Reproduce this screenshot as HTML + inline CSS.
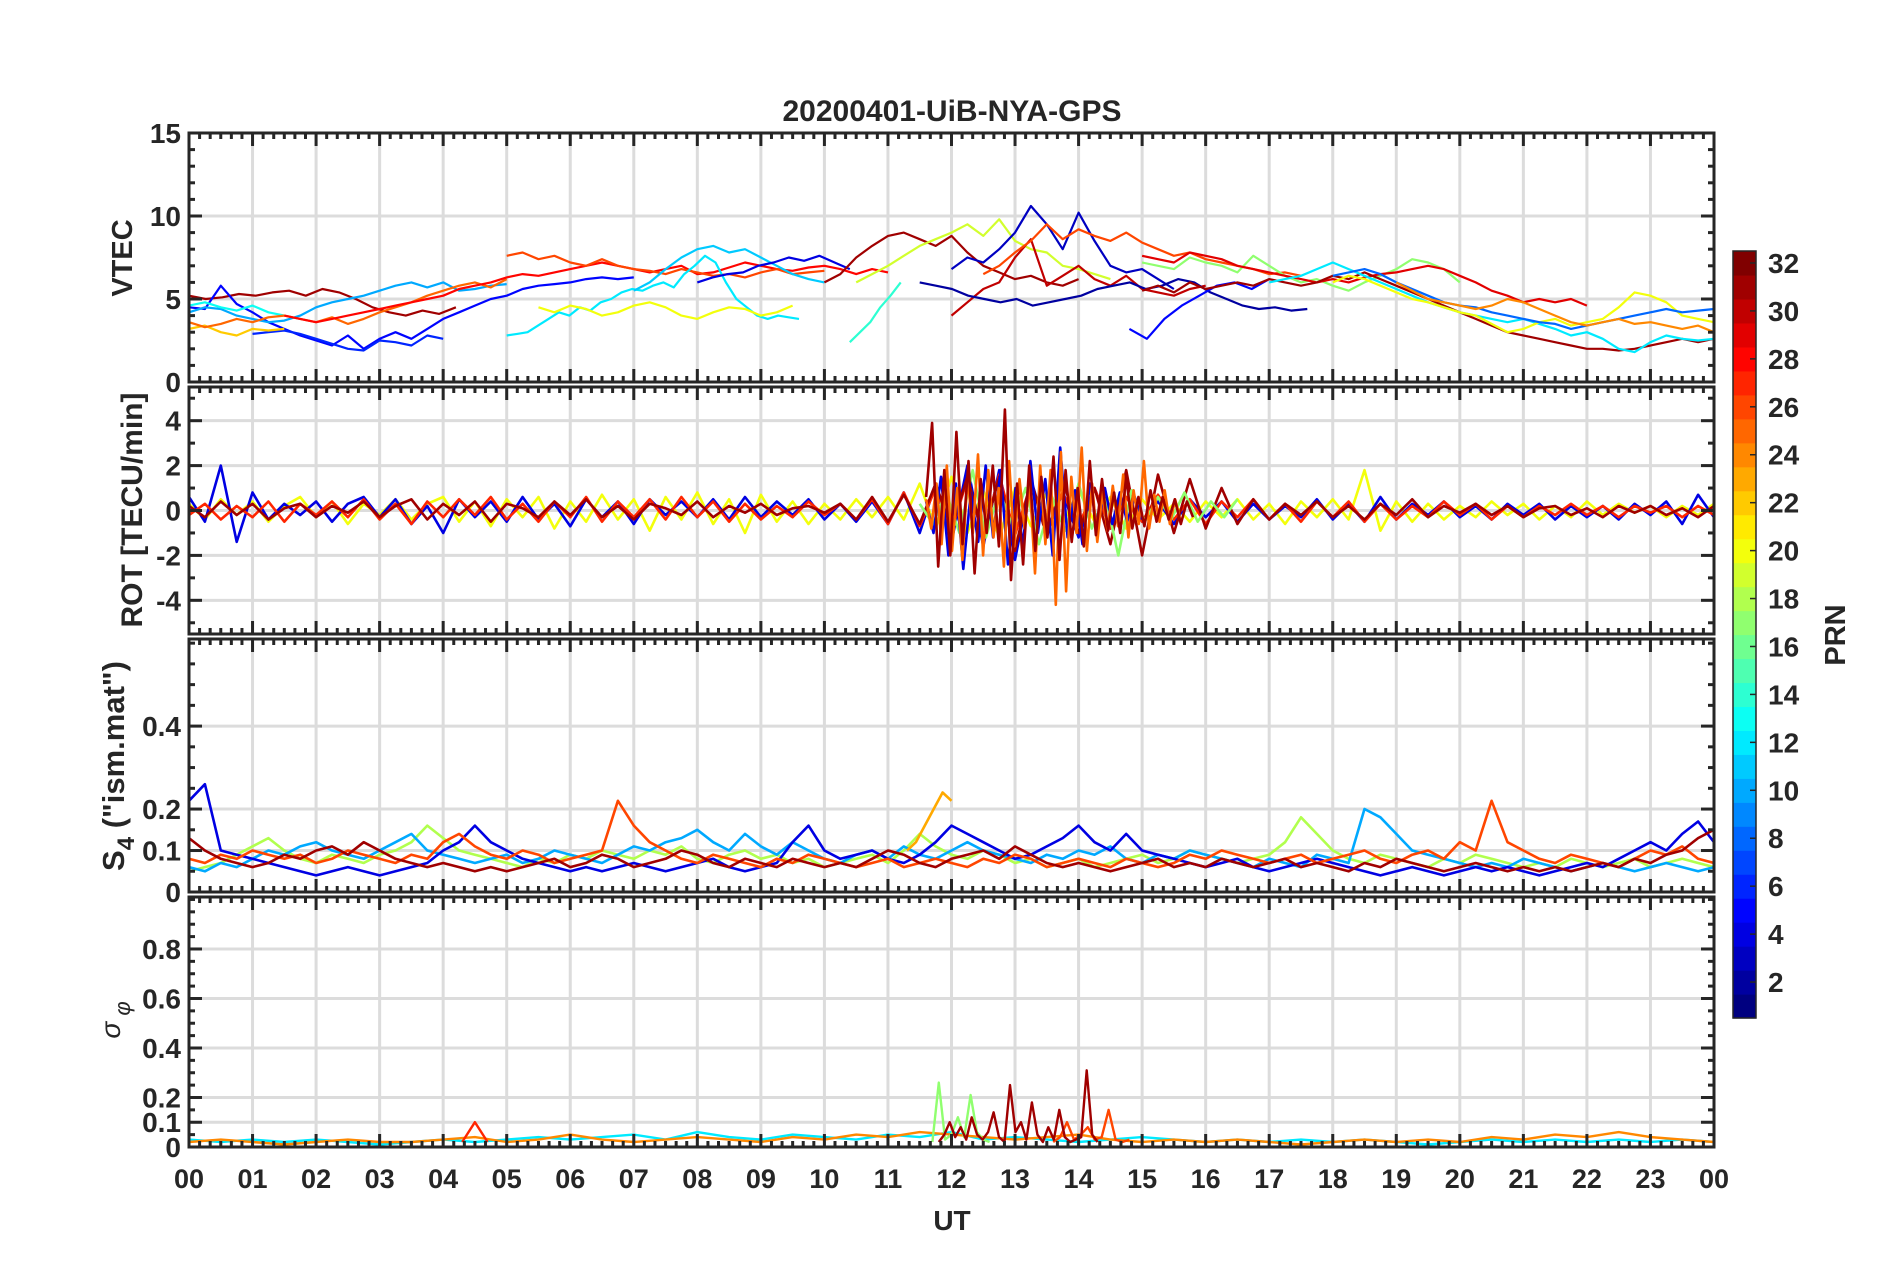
<!DOCTYPE html>
<html><head><meta charset="utf-8">
<style>
html,body{margin:0;padding:0;background:#fff;}
svg{display:block;}
text{font-family:"Liberation Sans",sans-serif;fill:#262626;}
</style></head>
<body>
<svg id="fig" width="1902" height="1272" viewBox="0 0 1902 1272" xmlns="http://www.w3.org/2000/svg">
<rect width="1902" height="1272" fill="#fff"/>
<text x="952" y="121" text-anchor="middle" font-size="30" font-weight="bold">20200401-UiB-NYA-GPS</text>
<g id="layer"></g>
<text x="952" y="1230" text-anchor="middle" font-size="28" font-weight="bold">UT</text>
<text transform="translate(132,258) rotate(-90)" text-anchor="middle" font-size="29" font-weight="bold">VTEC</text>
<text transform="translate(142,510) rotate(-90)" text-anchor="middle" font-size="30" font-weight="bold">ROT [TECU/min]</text>
<text transform="translate(124,766) rotate(-90)" text-anchor="middle" font-size="31" font-weight="bold">S<tspan dy="10" font-size="24">4</tspan><tspan dy="-10"> ("ism.mat")</tspan></text>
<text transform="translate(120,1020) rotate(-90)" text-anchor="middle" font-size="28" font-style="italic" font-family="DejaVu Serif, serif">σ<tspan dy="10" font-size="22"> φ</tspan></text>
<text transform="translate(1845,635) rotate(-90)" text-anchor="middle" font-size="29" font-weight="bold">PRN</text>
</svg>
<script>
// ---------- data ----------
const hours=["00","01","02","03","04","05","06","07","08","09","10","11","12","13","14","15","16","17","18","19","20","21","22","23","00"];
const prnTicks=[2,4,6,8,10,12,14,16,18,20,22,24,26,28,30,32];
const vtecTicks=[0,5,10,15];
const rotTicks=[-4,-2,0,2,4];
const s4Ticks=[0,0.1,0.2,0.4];
const sigTicks=[0,0.1,0.2,0.4,0.6,0.8];
const vtecSeries=[
{prn:31,t0:0,t1:4.2,v:[5.2,5.0,5.1,5.3,5.2,5.4,5.5,5.2,5.6,5.4,5.0,4.5,4.2,4.0,4.3,4.1,4.5]},
{prn:5,t0:0,t1:7,v:[4.5,4.4,5.8,4.7,4.2,3.6,3.2,2.8,2.5,2.2,2.8,2.0,2.6,3.0,2.6,3.2,3.8,4.2,4.6,5.0,5.2,5.6,5.8,5.9,6.0,6.2,6.3,6.2,6.3]},
{prn:6,t0:1,t1:4,v:[2.9,3.0,3.1,2.9,2.6,2.3,2.0,1.9,2.5,2.4,2.2,2.8,2.6]},
{prn:10,t0:0,t1:5,v:[4.2,4.5,4.4,4.0,3.8,3.6,3.7,4.0,4.5,4.8,5.0,5.2,5.5,5.8,6.0,5.7,6.0,5.5,5.6,5.8,5.9]},
{prn:13,t0:0,t1:1.5,v:[4.6,4.8,4.5,4.3,4.6,4.2,4.0]},
{prn:22,t0:0,t1:1.5,v:[3.2,3.4,3.0,2.8,3.2,3.1,3.2]},
{prn:25,t0:0,t1:5,v:[3.6,3.3,3.5,3.8,3.6,3.9,4.0,3.8,3.6,3.9,3.5,3.8,4.2,4.5,4.8,5.2,5.5,5.8,6.0,5.7,6.2]},
{prn:28,t0:1.5,t1:11,v:[4.0,3.8,3.6,3.8,4.0,4.2,4.4,4.6,4.8,5.0,5.2,5.6,5.8,6.0,6.3,6.5,6.4,6.6,6.8,7.0,7.2,7.0,6.8,6.6,6.8,7.0,6.5,6.6,6.9,7.2,7.0,6.8,6.7,6.9,7.0,6.8,6.5,6.8,6.6]},
{prn:26,t0:5,t1:10,v:[7.6,7.8,7.4,7.6,7.2,7.0,7.4,7.0,6.8,6.7,6.5,6.8,6.6,6.4,6.5,6.3,6.6,6.8,6.5,6.6,6.7]},
{prn:12,t0:5,t1:9.6,v:[2.8,2.9,3.0,3.4,3.8,4.2,4.0,4.5,4.3,4.8,5.0,5.4,5.6,5.5,5.8,6.0,5.7,6.5,7.0,7.6,7.2,6.0,5.0,4.5,4.0,3.8,4.0,3.9,3.8]},
{prn:20,t0:5.5,t1:9.5,v:[4.5,4.2,4.6,4.4,4.0,4.2,4.6,4.8,4.5,4.0,3.8,4.2,4.5,4.4,4.0,4.2,4.6]},
{prn:11,t0:7,t1:10,v:[5.5,6.0,6.8,7.5,8.0,8.2,7.8,8.0,7.5,7.0,6.5,6.2,6.0]},
{prn:4,t0:8,t1:10.4,v:[6.0,6.3,6.5,6.6,7.0,7.2,7.5,7.3,7.6,7.2,6.8]},
{prn:14,t0:10.4,t1:11.2,v:[2.4,3.0,3.6,4.5,5.2,6.0]},
{prn:31,t0:10,t1:14,v:[6.0,6.5,7.5,8.2,8.8,9.0,8.6,8.2,8.8,7.8,7.0,6.6,6.2,6.4,6.0,5.8,6.2]},
{prn:19,t0:10.5,t1:14.5,v:[6.0,6.5,7.0,7.6,8.2,8.6,9.0,9.5,8.8,9.8,8.5,8.0,7.8,7.0,6.8,6.5,6.2]},
{prn:3,t0:12,t1:15.5,v:[6.8,7.5,7.2,8.0,9.0,10.6,9.5,8.0,10.2,8.5,7.0,6.6,6.8,6.2,5.6]},
{prn:30,t0:12,t1:16,v:[4.0,4.8,5.6,6.0,7.5,8.6,5.8,6.4,7.0,6.2,5.8,6.4,5.6,5.4,5.2,5.6,5.8]},
{prn:26,t0:12.5,t1:17.5,v:[6.5,7.0,7.8,8.5,9.5,8.6,9.2,8.8,8.5,9.0,8.4,8.0,7.6,7.8,7.4,7.2,7.0,6.8,6.5,6.6,6.4]},
{prn:2,t0:11.5,t1:17.6,v:[6.0,5.8,5.6,5.2,5.0,4.8,5.0,4.6,4.8,5.0,5.2,5.6,5.8,6.0,5.6,5.8,6.2,6.0,5.4,5.0,4.6,4.4,4.5,4.3,4.4]},
{prn:5,t0:14.8,t1:17,v:[3.2,2.6,3.8,4.6,5.2,5.8,6.0,5.6,6.2]},
{prn:17,t0:15,t1:20,v:[7.2,7.0,6.8,7.5,7.2,7.0,6.6,7.6,7.0,6.4,6.0,6.2,5.8,5.5,6.0,6.4,6.8,7.4,7.2,6.8,6.0]},
{prn:29,t0:15,t1:22,v:[7.6,7.4,7.2,7.8,7.6,7.4,7.0,6.8,6.6,6.4,6.2,6.0,6.2,6.0,6.3,6.5,6.6,6.8,7.0,6.8,6.4,6.0,5.5,5.2,4.8,5.0,4.8,5.0,4.6]},
{prn:31,t0:15,t1:24,v:[5.5,5.8,5.4,6.0,5.6,5.8,6.0,5.8,6.2,6.0,5.8,6.0,6.4,6.2,6.6,6.2,5.8,5.4,5.0,4.6,4.2,3.8,3.4,3.0,2.8,2.6,2.4,2.2,2.0,2.0,1.9,2.0,2.2,2.4,2.6,2.4,2.6]},
{prn:12,t0:17,t1:24,v:[6.0,6.2,6.4,6.8,7.2,6.8,6.4,6.0,5.6,5.2,4.8,4.5,4.2,4.0,3.8,3.6,3.8,3.5,3.2,2.8,3.0,2.6,2.0,1.8,2.4,2.8,2.6,2.5,2.6]},
{prn:20,t0:18,t1:24,v:[6.0,6.4,6.2,5.8,5.4,5.0,4.8,4.5,4.2,4.0,3.5,3.0,3.2,3.6,3.8,3.4,3.6,3.8,4.5,5.4,5.2,4.8,4.0,3.8,3.6]},
{prn:8,t0:18,t1:24,v:[6.4,6.6,6.8,6.5,6.0,5.6,5.2,4.8,4.6,4.5,4.2,4.0,3.8,3.6,3.5,3.2,3.4,3.6,3.8,4.0,4.2,4.4,4.2,4.3,4.4]},
{prn:24,t0:19,t1:24,v:[6.0,5.5,5.0,4.8,4.6,4.4,4.6,5.0,4.8,4.4,4.0,3.6,3.4,3.6,3.8,3.5,3.6,3.4,3.2,3.4,3.0]}
];
const rotSeries=[
{prn:20,t0:0,t1:24,v:[0.3,-0.4,0.5,-0.2,0.4,-0.5,0.2,0.6,-0.3,0.4,-0.6,0.3,-0.2,0.5,-0.4,0.3,0.6,-0.5,0.4,-0.7,0.5,-0.3,0.6,-0.8,0.4,-0.5,0.7,-0.4,0.5,-0.9,0.6,-0.4,0.8,-0.6,0.5,-1.0,0.7,-0.5,0.4,-0.6,0.3,-0.4,0.5,-0.3,0.6,-0.4,1.2,-0.8,1.5,-1.0,0.9,-1.2,1.0,-0.7,0.8,-0.6,0.9,-0.5,0.6,-0.8,0.5,-0.4,0.3,-0.5,0.4,-0.3,0.5,-0.4,0.3,-0.6,0.4,-0.3,0.5,-0.4,1.8,-0.9,0.4,-0.5,0.3,-0.4,0.2,-0.3,0.4,-0.2,0.3,-0.4,0.2,-0.3,0.4,-0.2,0.3,-0.1,0.2,-0.3,0.2,-0.2,0.3]},
{prn:4,t0:0,t1:24,v:[0.6,-0.5,2.0,-1.4,0.8,-0.4,0.3,-0.2,0.4,-0.5,0.3,0.6,-0.3,0.5,-0.6,0.2,-1.0,0.5,-0.3,0.4,-0.5,0.6,-0.4,0.3,-0.7,0.5,-0.3,0.4,-0.6,0.5,-0.2,0.4,-0.3,0.5,-0.4,0.6,-0.3,0.4,-0.2,0.5,-0.4,0.3,-0.5,0.4,-0.6,0.8,-1.0,1.2,-1.4,2.0,-1.6,1.8,-2.2,1.4,-1.0,0.8,-1.2,1.0,-0.8,0.6,-0.5,0.4,-0.6,0.5,-0.3,0.4,-0.5,0.3,-0.4,0.2,-0.3,0.5,-0.4,0.3,-0.5,0.6,-0.4,0.3,-0.2,0.4,-0.3,0.2,-0.4,0.3,-0.2,0.3,-0.4,0.2,-0.3,0.2,-0.4,0.3,-0.2,0.4,-0.6,0.7,-0.3]},
{prn:27,t0:0,t1:24,v:[-0.2,0.3,-0.4,0.2,-0.3,0.4,-0.5,0.3,-0.2,0.4,-0.3,0.5,-0.4,0.3,-0.6,0.4,-0.3,0.5,-0.2,0.6,-0.4,0.3,-0.5,0.4,-0.3,0.6,-0.5,0.4,-0.3,0.5,-0.4,0.6,-0.3,0.4,-0.5,0.3,-0.4,0.2,-0.3,0.4,-0.2,0.3,-0.4,0.5,-0.6,0.8,-0.7,1.0,-0.9,1.4,-1.2,1.6,-1.1,1.2,-0.9,0.8,-0.7,1.0,-0.8,0.6,-0.5,0.7,-0.4,0.5,-0.6,0.4,-0.3,0.5,-0.4,0.3,-0.5,0.4,-0.3,0.4,-0.5,0.3,-0.4,0.2,-0.3,0.4,-0.2,0.3,-0.4,0.2,-0.3,0.2,-0.2,0.3,-0.2,0.2,-0.3,0.2,-0.1,0.2,-0.3,0.2,-0.2]},
{prn:31,t0:0,t1:24,v:[0.2,-0.3,0.4,-0.2,0.3,-0.4,0.1,0.3,-0.3,0.2,-0.1,0.4,-0.3,0.2,0.5,-0.4,0.3,-0.2,0.4,-0.5,0.3,0.1,-0.3,0.4,-0.2,0.5,-0.3,0.2,-0.4,0.3,0.1,-0.2,0.4,-0.3,0.2,-0.1,0.3,-0.2,0.1,0.2,-0.1,0.3,-0.4,0.6,-0.5,0.7,-0.6,1.2,-0.8,1.5,-1.2,1.5,-1.8,1.4,-1.2,1.4,-1.0,1.0,-1.5,1.8,-2.0,1.6,-1.0,1.4,-0.8,1.0,-0.6,0.5,-0.4,0.3,-0.2,0.4,-0.3,0.2,-0.4,0.3,-0.2,0.5,-0.3,0.2,-0.1,0.3,-0.2,0.2,-0.3,0.1,0.2,-0.2,0.1,-0.3,0.2,-0.1,0.2,-0.2,0.1,-0.3,0.2]},
{prn:17,t0:11.5,t1:16.5,v:[0.3,-0.6,0.8,-1.0,1.8,-1.2,0.9,-0.7,1.0,-1.5,0.6,-0.9,1.2,-0.8,0.7,-2.0,0.9,-0.5,0.6,-0.4,0.8,-0.5,0.4,-0.3,0.5]},
{prn:4,t0:11.6,t1:15.0,v:[0.4,-1.0,1.5,-2.0,1.2,-2.6,0.8,-1.4,2.0,-1.2,1.8,-2.4,1.0,-1.6,2.2,-1.0,1.4,-2.0,2.8,-1.2,0.9,-1.5,1.2,-0.8,1.0,-0.6,0.8,-0.5,0.6,-0.4]},
{prn:25,t0:11.6,t1:15.6,v:[0.5,-0.8,1.2,-1.5,2.0,-1.8,1.0,-2.2,1.5,-1.0,2.5,-2.0,1.8,-1.2,1.0,-2.5,2.2,-1.6,1.4,-0.8,1.2,-2.8,2.0,-1.5,1.8,-4.2,2.6,-3.6,1.5,-1.0,2.8,-1.8,1.2,-1.4,0.8,-0.9,1.1,-0.7,1.6,-1.2,0.9,-0.6,2.2,-0.8,0.7,-0.5,0.9,-0.6,0.5,-0.4]},
{prn:31,t0:11.6,t1:15.8,v:[0.6,3.9,-2.5,1.8,-2.0,3.5,-1.5,2.2,-2.8,1.4,-1.0,2.0,-1.6,4.5,-3.1,1.2,-2.4,2.0,-1.8,1.5,-1.2,2.4,-2.2,1.8,-1.4,1.0,-1.6,2.2,-1.1,1.4,-0.9,0.8,-1.0,1.5,-0.8,0.6,-0.7,0.9,-0.5,0.6,-0.4,0.5,-0.6,0.4,-0.3]}
];
const s4Series=[
{prn:18,t0:0,t1:24,v:[0.05,0.06,0.07,0.09,0.11,0.13,0.10,0.08,0.07,0.09,0.08,0.07,0.09,0.10,0.12,0.16,0.13,0.10,0.09,0.08,0.07,0.06,0.08,0.07,0.09,0.08,0.10,0.09,0.08,0.10,0.09,0.11,0.08,0.07,0.09,0.10,0.08,0.09,0.07,0.08,0.06,0.07,0.08,0.09,0.07,0.10,0.14,0.11,0.09,0.08,0.10,0.09,0.07,0.08,0.06,0.07,0.08,0.06,0.07,0.08,0.09,0.07,0.08,0.10,0.09,0.08,0.07,0.08,0.09,0.12,0.18,0.14,0.10,0.08,0.07,0.09,0.08,0.07,0.06,0.08,0.07,0.09,0.08,0.07,0.06,0.07,0.06,0.08,0.07,0.06,0.07,0.08,0.06,0.07,0.08,0.07,0.06]},
{prn:10,t0:0,t1:24,v:[0.06,0.05,0.07,0.06,0.08,0.10,0.09,0.11,0.12,0.10,0.09,0.08,0.10,0.12,0.14,0.10,0.09,0.08,0.07,0.08,0.09,0.07,0.08,0.10,0.09,0.08,0.07,0.09,0.11,0.10,0.12,0.13,0.15,0.12,0.10,0.14,0.11,0.09,0.12,0.10,0.08,0.07,0.09,0.10,0.08,0.11,0.09,0.08,0.10,0.12,0.10,0.09,0.08,0.07,0.09,0.08,0.10,0.09,0.11,0.08,0.07,0.09,0.08,0.10,0.09,0.08,0.07,0.06,0.08,0.07,0.06,0.09,0.08,0.07,0.20,0.18,0.14,0.10,0.09,0.08,0.07,0.06,0.07,0.06,0.08,0.07,0.06,0.05,0.06,0.07,0.06,0.05,0.06,0.07,0.06,0.05,0.06]},
{prn:4,t0:0,t1:24,v:[0.22,0.26,0.10,0.09,0.08,0.07,0.06,0.05,0.04,0.05,0.06,0.05,0.04,0.05,0.06,0.07,0.10,0.12,0.16,0.12,0.10,0.08,0.07,0.06,0.05,0.06,0.05,0.06,0.07,0.06,0.05,0.06,0.07,0.08,0.06,0.05,0.06,0.07,0.12,0.16,0.10,0.08,0.09,0.10,0.08,0.07,0.09,0.12,0.16,0.14,0.12,0.10,0.08,0.09,0.11,0.13,0.16,0.12,0.10,0.14,0.10,0.09,0.08,0.07,0.06,0.07,0.08,0.06,0.05,0.06,0.07,0.08,0.07,0.06,0.05,0.04,0.05,0.06,0.05,0.04,0.05,0.06,0.05,0.06,0.05,0.04,0.05,0.06,0.07,0.06,0.08,0.10,0.12,0.10,0.14,0.17,0.12]},
{prn:26,t0:0,t1:24,v:[0.08,0.07,0.09,0.08,0.10,0.09,0.08,0.09,0.07,0.08,0.10,0.09,0.08,0.07,0.09,0.08,0.12,0.14,0.11,0.09,0.08,0.10,0.09,0.07,0.08,0.09,0.10,0.22,0.16,0.12,0.10,0.08,0.07,0.09,0.08,0.07,0.06,0.08,0.07,0.09,0.08,0.07,0.06,0.07,0.08,0.06,0.07,0.08,0.07,0.06,0.08,0.07,0.09,0.08,0.06,0.07,0.08,0.07,0.06,0.08,0.07,0.06,0.07,0.09,0.08,0.10,0.09,0.08,0.07,0.08,0.09,0.07,0.08,0.09,0.10,0.08,0.07,0.09,0.10,0.08,0.12,0.10,0.22,0.12,0.10,0.08,0.07,0.09,0.08,0.07,0.06,0.08,0.10,0.09,0.11,0.08,0.07]},
{prn:23,t0:11.3,t1:12,v:[0.10,0.12,0.16,0.20,0.24,0.22]},
{prn:31,t0:0,t1:24,v:[0.13,0.10,0.08,0.07,0.06,0.07,0.09,0.08,0.10,0.11,0.09,0.12,0.10,0.08,0.07,0.06,0.07,0.06,0.05,0.06,0.05,0.06,0.07,0.08,0.06,0.07,0.09,0.08,0.06,0.07,0.08,0.10,0.09,0.07,0.06,0.08,0.07,0.06,0.08,0.07,0.06,0.07,0.06,0.08,0.10,0.09,0.07,0.06,0.08,0.09,0.10,0.08,0.11,0.09,0.07,0.06,0.07,0.06,0.05,0.06,0.07,0.08,0.06,0.07,0.06,0.08,0.07,0.06,0.07,0.08,0.06,0.07,0.06,0.05,0.07,0.06,0.08,0.07,0.06,0.05,0.06,0.07,0.06,0.05,0.06,0.05,0.06,0.05,0.06,0.07,0.06,0.08,0.07,0.09,0.10,0.13,0.15]}
];
const sigSeries=[
{prn:12,t0:0,t1:24,v:[0.03,0.02,0.03,0.02,0.03,0.02,0.01,0.02,0.03,0.02,0.03,0.04,0.03,0.04,0.05,0.03,0.06,0.04,0.03,0.05,0.04,0.03,0.05,0.04,0.06,0.03,0.04,0.03,0.02,0.03,0.04,0.03,0.02,0.03,0.02,0.03,0.02,0.03,0.02,0.01,0.02,0.03,0.02,0.03,0.02,0.03,0.02,0.03,0.02]},
{prn:24,t0:0,t1:24,v:[0.02,0.03,0.02,0.01,0.02,0.03,0.02,0.02,0.03,0.04,0.02,0.03,0.05,0.03,0.02,0.03,0.04,0.03,0.02,0.04,0.03,0.05,0.04,0.06,0.05,0.04,0.03,0.04,0.05,0.03,0.02,0.03,0.02,0.03,0.02,0.01,0.02,0.03,0.02,0.03,0.02,0.04,0.03,0.05,0.04,0.06,0.04,0.03,0.02]},
{prn:27,t0:4.3,t1:4.7,v:[0.02,0.10,0.02]},
{prn:17,t0:11.7,t1:12.6,v:[0.02,0.26,0.03,0.05,0.12,0.04,0.21,0.06,0.03,0.02]},
{prn:26,t0:13.6,t1:14.8,v:[0.02,0.04,0.10,0.03,0.05,0.08,0.03,0.04,0.15,0.03,0.02,0.03]},
{prn:31,t0:11.8,t1:14.3,v:[0.02,0.05,0.10,0.04,0.08,0.03,0.12,0.05,0.03,0.06,0.14,0.04,0.02,0.25,0.06,0.10,0.03,0.18,0.05,0.02,0.08,0.03,0.15,0.04,0.02,0.03,0.04,0.31,0.05,0.02]}
];
// ---------- layout ----------
const L=189,R=1714;
const panels=[
 {name:'vtec',top:133,bot:382,min:0,max:15,ticks:vtecTicks,minor:1,grid:[5,10],series:vtecSeries,labels:['0','5','10','15'],sw:2.2},
 {name:'rot',top:387,bot:634,min:-5.5,max:5.5,ticks:rotTicks,minor:1,grid:[-4,-2,0,2,4],series:rotSeries,labels:['-4','-2','0','2','4'],sw:2.6},
 {name:'s4',top:639,bot:892,min:0,max:0.61,ticks:s4Ticks,minor:0.05,grid:[0.1,0.2,0.4],series:s4Series,labels:['0','0.1','0.2','0.4'],sw:2.6},
 {name:'sigma-phi',top:897,bot:1147,min:0,max:1.01,ticks:sigTicks,minor:0.05,grid:[0.1,0.2,0.4,0.6,0.8],series:sigSeries,labels:['0','0.1','0.2','0.4','0.6','0.8'],sw:2.4}
];
const NS='http://www.w3.org/2000/svg';
const layer=document.getElementById('layer');
function mk(tag,attrs,parent){const e=document.createElementNS(NS,tag);for(const k in attrs)e.setAttribute(k,attrs[k]);(parent||layer).appendChild(e);return e;}
function xS(h){return L+h/24*(R-L);}
function jet(p){const t=(p-1)/31;const c=v=>Math.round(255*Math.max(0,Math.min(1,v)));return `rgb(${c(1.5-Math.abs(4*t-3))},${c(1.5-Math.abs(4*t-2))},${c(1.5-Math.abs(4*t-1))})`;}
const defs=mk('defs',{});
panels.forEach((P,pi)=>{
  const yS=v=>P.bot-(v-P.min)/(P.max-P.min)*(P.bot-P.top);
  const g=mk('g',{});
  
  
  const cp=mk('clipPath',{id:'cp'+pi},defs);
  mk('rect',{x:L,y:P.top,width:R-L,height:P.bot-P.top},cp);
  for(let h=1;h<24;h++){const l=mk('line',{x1:xS(h),x2:xS(h),y1:P.top,y2:P.bot,stroke:'#dcdcdc','stroke-width':3},g);
    }
  P.grid.forEach(v=>{const l=mk('line',{x1:L,x2:R,y1:yS(v),y2:yS(v),stroke:'#dcdcdc','stroke-width':3},g);
    });
  const sg=mk('g',{'clip-path':`url(#cp${pi})`},g);
  P.series.forEach(s=>{
    const n=s.v.length;
    const pts=s.v.map((v,i)=>xS(s.t0+i*(s.t1-s.t0)/(n-1)).toFixed(1)+','+yS(v).toFixed(1)).join(' ');
    const pl=mk('polyline',{points:pts,fill:'none',stroke:jet(s.prn),'stroke-width':P.sw,'stroke-linejoin':'round'},sg);
    
    
  });
  const tk=mk('g',{stroke:'#262626','stroke-width':3},g);
  for(let k=0;k<=24*6;k++){const h=k/6;const len=(k%6===0)?13:6;const x=xS(h);
    mk('line',{x1:x,x2:x,y1:P.top,y2:P.top+len},tk);mk('line',{x1:x,x2:x,y1:P.bot,y2:P.bot-len},tk);}
  for(let k=Math.ceil(P.min/P.minor);k*P.minor<=P.max+1e-9;k++){const v=k*P.minor;
    const maj=P.ticks.some(t=>Math.abs(t-v)<1e-6);const len=maj?13:6;const y=yS(v);
    mk('line',{x1:L,x2:L+len,y1:y,y2:y},tk);mk('line',{x1:R,x2:R-len,y1:y,y2:y},tk);}
  const bx=mk('rect',{x:L,y:P.top,width:R-L,height:P.bot-P.top,fill:'none',stroke:'#262626','stroke-width':3},g);
  
  P.ticks.forEach((v,i)=>{const y=yS(v)+10;
    const t=mk('text',{x:L-8,y:y,'text-anchor':'end','font-size':28,'font-weight':'bold'},g);t.textContent=P.labels[i];
    });
});
hours.forEach((h,i)=>{const t=mk('text',{x:xS(i),y:1188,'text-anchor':'middle','font-size':27,'font-weight':'bold'});t.textContent=h;
  });
const CT=251,CB=1018,CL=1733,CW=23;
const cb=mk('g',{});


const cy=v=>CB-(v-0.5)/32*(CB-CT);
for(let p=1;p<=32;p++){mk('rect',{x:CL,y:cy(p+0.5),width:CW,height:(CB-CT)/32+0.6,fill:jet(p)},cb);}
mk('rect',{x:CL,y:CT,width:CW,height:CB-CT,fill:'none',stroke:'#262626','stroke-width':1.5},cb);
prnTicks.forEach(v=>{const y=cy(v);mk('line',{x1:CL+CW-6,x2:CL+CW,y1:y,y2:y,stroke:'#262626','stroke-width':1.5},cb);
  const t=mk('text',{x:CL+CW+12,y:y+10,'font-size':28,'font-weight':'bold'},cb);t.textContent=v;
  });
</script>
</body></html>
